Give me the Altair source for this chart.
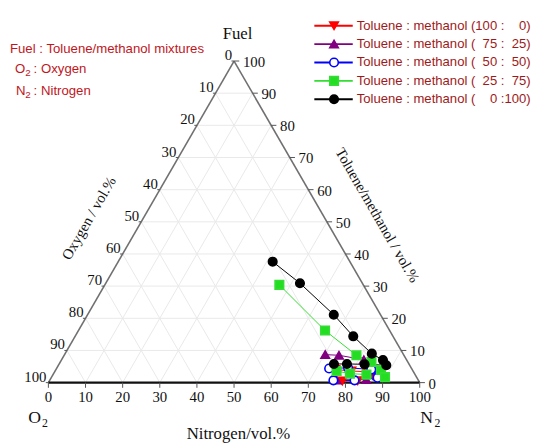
import altair as alt
import pandas as pd
import numpy as np

# ---------------- data (vol.%) ----------------
series_labels = [
    "Toluene : methanol (100 :\u2007\u20070)",
    "Toluene : methanol (\u200775 :\u200725)",
    "Toluene : methanol (\u200750 :\u200750)",
    "Toluene : methanol (\u200725 :\u200775)",
    "Toluene : methanol (\u2007\u20070 :100)",
]
line_colors = ["#ff0000", "#800080", "#0000ff", "#33dd33", "#000000"]
fill_colors = ["#ff0000", "#800080", "#ffffff", "#22dd22", "#000000"]
shapes = ["triangle-down", "triangle-up", "circle", "square", "circle"]
sizes = [75, 75, 40, 42, 38]

fuel_100_0 = [4.1, 3.6, 3.4, 2.1, 0.6, 0.5]
oxy_100_0 = [20.7, 16.6, 12.6, 11.2, 16.4, 20.6]
fuel_75_25 = [8.7, 8.5, 7.1, 3.6, 2.1, 1.0, 0.8]
oxy_75_25 = [21.1, 17.5, 11.5, 10.6, 10.4, 13.9, 22.0]
fuel_50_50 = [4.4, 4.6, 4.1, 2.8, 1.5, 0.7, 0.7]
oxy_50_50 = [22.2, 17.0, 11.0, 9.5, 10.6, 17.2, 22.9]
fuel_25_75 = [30.4, 16.2, 8.5, 6.4, 3.9, 1.7, 2.5, 2.8, 3.6]
oxy_25_75 = [22.6, 17.4, 12.8, 9.8, 8.5, 8.5, 13.1, 17.4, 20.6]
fuel_0_100 = [37.6, 30.9, 21.1, 14.4, 9.0, 7.0, 5.4, 5.7, 5.8, 5.8]
oxy_0_100 = [20.8, 16.8, 12.6, 10.7, 8.4, 6.4, 6.3, 12.0, 16.7, 20.2]

fuel_all = [fuel_100_0, fuel_75_25, fuel_50_50, fuel_25_75, fuel_0_100]
oxy_all = [oxy_100_0, oxy_75_25, oxy_50_50, oxy_25_75, oxy_0_100]

tick_values = list(range(0, 101, 10))

# ---------------- layout constants ----------------
W, H = 533, 436
X0, Y0, K = 41.0, 377.0, 3.77
S3 = np.sqrt(3) / 2
xs = alt.Scale(domain=[-X0 / K, (W - X0) / K], nice=False, zero=False)
ys = alt.Scale(domain=[(Y0 - H) / K, Y0 / K], nice=False, zero=False)

SERIF = "Liberation Serif"
SANS = "Liberation Sans"


def tern(F, O):
    F = np.asarray(F, float)
    O = np.asarray(O, float)
    N = 100 - F - O
    return N + F / 2, F * S3


rows = []
for lab, F, O in zip(series_labels, fuel_all, oxy_all):
    x, y = tern(F, O)
    for i, (xx, yy) in enumerate(zip(x, y)):
        rows.append({"series": lab, "ord": i, "x": xx, "y": yy})
df = pd.DataFrame(rows)

g = []
for k in tick_values[1:-1]:
    g.append({"x": k / 2, "y": k * S3, "x2": 100 - k / 2, "y2": k * S3})
    g.append({"x": k, "y": 0, "x2": k + (100 - k) / 2, "y2": (100 - k) * S3})
    g.append({"x": 100 - k, "y": 0, "x2": (100 - k) / 2, "y2": (100 - k) * S3})
grid = pd.DataFrame(g)

frame_side = pd.DataFrame([
    {"x": 0, "y": 0, "x2": 50, "y2": 100 * S3},
    {"x": 100, "y": 0, "x2": 50, "y2": 100 * S3},
])
frame_base = pd.DataFrame([{"x": 0, "y": 0, "x2": 100, "y2": 0}])

tk = 1.4
ticks_rows = []
for k in tick_values:
    ticks_rows.append({"x": k, "y": 0, "x2": k, "y2": -tk})
    lx, ly = (100 - k) / 2, (100 - k) * S3
    ticks_rows.append({"x": lx, "y": ly, "x2": lx - tk * 0.5, "y2": ly})
    rx, ry = 100 - k / 2, k * S3
    ticks_rows.append({"x": rx, "y": ry, "x2": rx + tk, "y2": ry})
ticks = pd.DataFrame(ticks_rows)

bot_lab = pd.DataFrame({"x": tick_values, "y": [0] * 11, "t": [str(v) for v in tick_values]})
left_lab = pd.DataFrame({"x": [(100 - k) / 2 for k in tick_values],
                         "y": [(100 - k) * S3 for k in tick_values],
                         "t": [str(v) for v in tick_values]})
right_lab = pd.DataFrame({"x": [100 - k / 2 for k in tick_values],
                          "y": [k * S3 for k in tick_values],
                          "t": [str(v) for v in tick_values]})

X = alt.X("x:Q", scale=xs, axis=None)
Y = alt.Y("y:Q", scale=ys, axis=None)

grid_l = alt.Chart(grid).mark_rule(color="#e9e9e9", strokeWidth=1).encode(X, Y, x2="x2:Q", y2="y2:Q")
side_l = alt.Chart(frame_side).mark_rule(color="#707070", strokeWidth=1.6).encode(X, Y, x2="x2:Q", y2="y2:Q")
base_l = alt.Chart(frame_base).mark_rule(color="#111111", strokeWidth=2.2).encode(X, Y, x2="x2:Q", y2="y2:Q")
tick_l = alt.Chart(ticks).mark_rule(color="#555555", strokeWidth=1).encode(X, Y, x2="x2:Q", y2="y2:Q")

bot_t = alt.Chart(bot_lab).mark_text(font=SERIF, fontSize=15, dy=15, color="#111").encode(X, Y, text="t:N")
left_t = alt.Chart(left_lab).mark_text(font=SERIF, fontSize=15, align="right", dx=-2, dy=-6, color="#111").encode(X, Y, text="t:N")
right_t = alt.Chart(right_lab).mark_text(font=SERIF, fontSize=15, align="left", dx=9, dy=1, color="#111").encode(X, Y, text="t:N")

col = alt.Color("series:N", scale=alt.Scale(domain=series_labels, range=line_colors), legend=None)
lines = alt.Chart(df).mark_line(strokeWidth=1).encode(X, Y, color=col, order="ord:Q", detail="series:N")
pts = alt.Chart(df).mark_point(filled=True, strokeWidth=1.6, opacity=1).encode(
    X, Y,
    shape=alt.Shape("series:N", scale=alt.Scale(domain=series_labels, range=shapes), legend=None),
    fill=alt.Fill("series:N", scale=alt.Scale(domain=series_labels, range=fill_colors), legend=None),
    stroke=alt.Stroke("series:N", scale=alt.Scale(domain=series_labels, range=line_colors), legend=None),
    size=alt.Size("series:N", scale=alt.Scale(domain=series_labels, range=sizes), legend=None),
)


def label(s, px, py, size, font, color="#111111", angle=0, align="center"):
    return alt.Chart(pd.DataFrame({"t": [s]})).mark_text(
        font=font, fontSize=size, color=color, angle=angle, align=align, baseline="middle"
    ).encode(text="t:N", x=alt.value(px), y=alt.value(py))


red = "#c0161c"
titles = [
    label("Fuel", 233, 23, 17, SERIF),
    label("O", 27, 413, 18, SERIF),
    label("2", 34.5, 418, 12, SERIF, align="left"),
    label("N", 425, 413, 18, SERIF),
    label("2", 433, 418, 12, SERIF, align="left"),
    label("Nitrogen/vol.%", 234, 429, 17, SERIF),
    label("Oxygen / vol.%", 82, 210, 15, SERIF, angle=300),
    label("Toluene/methanol / vol.%", 375, 207, 15, SERIF, angle=60),
    label("Fuel : Toluene/methanol mixtures", 2, 38, 13.4, SANS, red, align="left"),
    label("O", 7, 59, 13.4, SANS, red, align="left"),
    label("2", 17.5, 63, 10, SANS, red, align="left"),
    label(": Oxygen", 26, 59, 13.4, SANS, red, align="left"),
    label("N", 8, 81, 13.4, SANS, red, align="left"),
    label("2", 17.5, 85, 10, SANS, red, align="left"),
    label(": Nitrogen", 26, 81, 13.4, SANS, red, align="left"),
]

tern_layer = alt.layer(grid_l, side_l, base_l, tick_l, bot_t, left_t, right_t, lines, pts, *titles)

# legend
leg = pd.DataFrame({"series": series_labels, "row": list(range(5))})
yleg = alt.Y("row:Q", scale=alt.Scale(domain=[0, 4], range=[14.7, 89.3]), axis=None)
leg_rule = alt.Chart(leg).mark_rule(strokeWidth=2).encode(x=alt.value(311), x2=alt.value(350), y=yleg, color=col)
leg_pts = alt.Chart(leg).mark_point(filled=True, strokeWidth=1.6, opacity=1).encode(
    x=alt.value(331), y=yleg,
    shape=alt.Shape("series:N", scale=alt.Scale(domain=series_labels, range=shapes), legend=None),
    fill=alt.Fill("series:N", scale=alt.Scale(domain=series_labels, range=fill_colors), legend=None),
    stroke=alt.Stroke("series:N", scale=alt.Scale(domain=series_labels, range=line_colors), legend=None),
    size=alt.Size("series:N", scale=alt.Scale(domain=series_labels, range=sizes), legend=None),
)
leg_txt = alt.Chart(leg).mark_text(align="left", baseline="middle", font=SANS, fontSize=13.3, color="#9e1a1a").encode(
    x=alt.value(354), y=yleg, text="series:N")
leg_layer = alt.layer(leg_rule, leg_pts, leg_txt)

chart = alt.layer(tern_layer, leg_layer).resolve_scale(x="independent", y="independent").properties(
    width=W, height=H, padding=0, autosize=alt.AutoSizeParams(type="none")
).configure_view(stroke=None)

chart.save("out.html", embed_options={"renderer": "svg", "actions": False})
